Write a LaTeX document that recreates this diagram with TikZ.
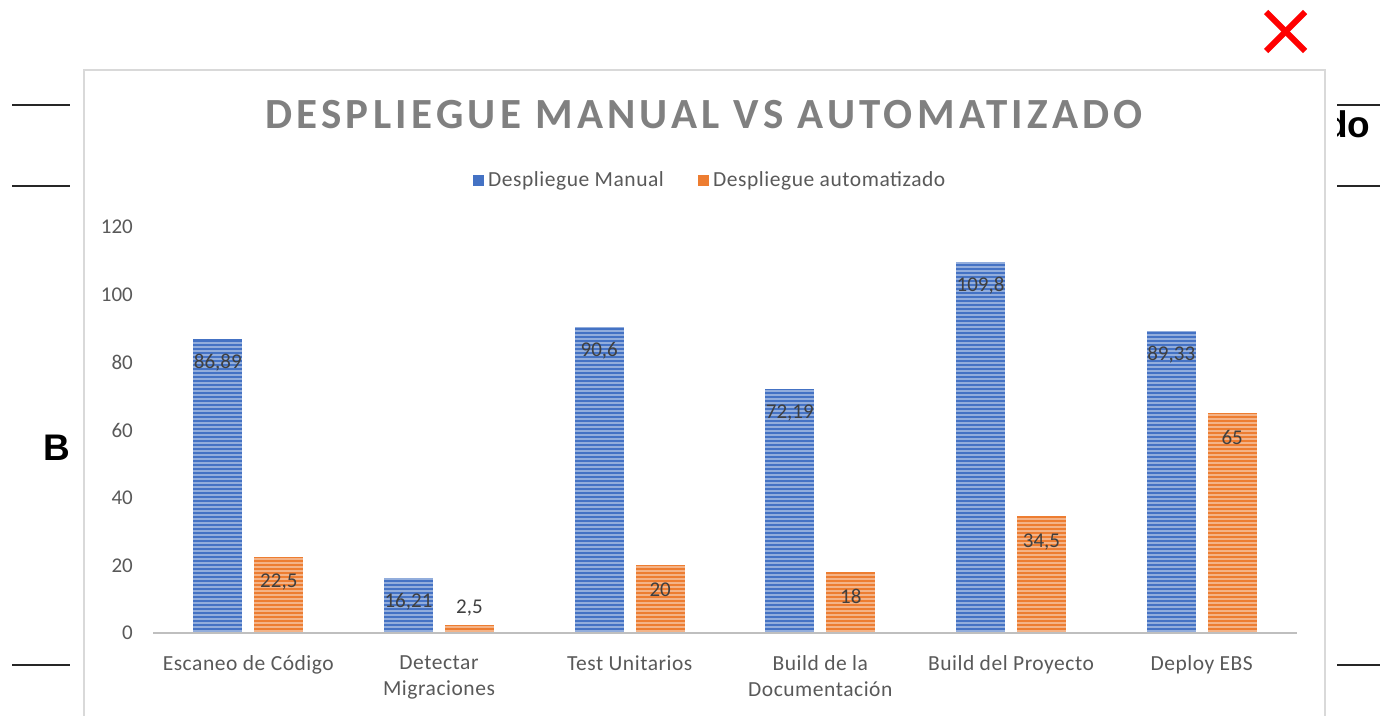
\documentclass[tikz,border=0pt]{standalone}
\usepackage{fontspec}
\setmainfont{Carlito}
\newfontfamily\titlefont[LetterSpace=10]{Carlito}
\newfontfamily\widefont[LetterSpace=2.5]{Carlito}
\newfontfamily\docfont{Liberation Sans}

\definecolor{serA}{HTML}{4472C4}
\definecolor{serB}{HTML}{ED7D31}
\definecolor{axisgray}{HTML}{BFBFBF}
\definecolor{txtgray}{HTML}{595959}
\definecolor{lblgray}{HTML}{404040}
\definecolor{titlegray}{HTML}{808080}
\definecolor{framegray}{HTML}{D9D9D9}

% one striped bar: name, x centre, value, colour, label, label offset below the bar top
\newcommand\chartbar[6]{%
  \pgfmathsetmacro\bartop{633-#3*3.383}%
  \pgfmathtruncatemacro\nlines{(631-\bartop)/4}%
  \fill[#4] (#2-24.5,\bartop) rectangle (#2+24.5,633);
  \foreach \k in {0,...,\nlines}{%
    \draw[stripe] (#2-24.5,631-\k*4) -- (#2+24.5,631-\k*4);
  }
  \node[datalbl] (#1) at (#2,\bartop+#6) {#5};
}

\tikzset{
  stripe/.style={white,opacity=.42,line width=1.1pt},
  datalbl/.style={text=lblgray,font=\fontsize{21}{25}\selectfont,inner sep=0pt},
  ticklbl/.style={text=txtgray,font=\fontsize{21}{25}\selectfont,anchor=east,inner sep=0pt},
  catlbl/.style={text=txtgray,font=\widefont\fontsize{21.5}{26}\selectfont,align=center,anchor=north,inner sep=0pt},
  leglbl/.style={text=txtgray,font=\widefont\fontsize{21.5}{25}\selectfont,anchor=west,inner sep=0pt},
  pagerule/.style={black!85,line width=2pt},
  doctext/.style={font=\docfont\bfseries\fontsize{37}{40}\selectfont,inner sep=0pt}
}

\begin{document}
\begin{tikzpicture}[x=1pt,y=-1pt]
\useasboundingbox (0,0) rectangle (1380,715);
\fill[white] (0,0) rectangle (1380,715);

% page underneath the chart
\draw[pagerule] (12,105) -- (70,105);
\draw[pagerule] (12,186) -- (70,186);
\draw[pagerule] (12,665) -- (70,665);
\draw[pagerule] (1337,105) -- (1380,105);
\draw[pagerule] (1337,186) -- (1380,186);
\draw[pagerule] (1337,665) -- (1380,665);
\node[doctext,anchor=base east] (pageB) at (70,460) {B};
\node[doctext,anchor=base west] (pagedo) at (1325,137) {do};

% chart area
\fill[white] (72,60) rectangle (1337,716);
\draw[framegray,line width=2pt] (84,716) -- (84,70) -- (1325,70) -- (1325,716);

% close mark
\draw[red,line width=6pt] (1266,12) -- (1305,51);
\draw[red,line width=6pt] (1305,12) -- (1266,51);

% title
\node[text=titlegray,font=\titlefont\bfseries\fontsize{43}{50}\selectfont,inner sep=0pt] (title) at (704,115) {DESPLIEGUE MANUAL VS AUTOMATIZADO};

% legend
\fill[serA] (473,175) rectangle (484,186);
\node[leglbl] (legA) at (488,181) {Despliegue Manual};
\fill[serB] (698,175) rectangle (709,186);
\node[leglbl] (legB) at (713,181) {Despliegue automatizado};

% value axis labels
\foreach \v in {0,20,...,120}{
  \node[ticklbl] (tick\v) at (133,633-\v*3.383) {\v};
}

% bars
\chartbar{a1}{217.8}{86.89}{serA}{86,89}{24}
\chartbar{b1}{278.8}{22.5}{serB}{22,5}{25}
\chartbar{a2}{408.5}{16.21}{serA}{16,21}{24}
\chartbar{b2}{469.5}{2.5}{serB}{2,5}{-17}
\chartbar{a3}{599.2}{90.6}{serA}{90,6}{24}
\chartbar{b3}{660.2}{20}{serB}{20}{24}
\chartbar{a4}{789.8}{72.19}{serA}{72,19}{24}
\chartbar{b4}{850.8}{18}{serB}{18}{24}
\chartbar{a5}{980.5}{109.8}{serA}{109,8}{24}
\chartbar{b5}{1041.5}{34.5}{serB}{34,5}{26}
\chartbar{a6}{1171.2}{89.33}{serA}{89,33}{24}
\chartbar{b6}{1232.2}{65}{serB}{65}{24}

% category axis
\draw[axisgray,line width=2pt] (153,633) -- (1297,633);
\node[catlbl] (c1) at (248.3,655) {Escaneo de Código};
\node[catlbl] (c2) at (439.0,655) {Detectar\\Migraciones};
\node[catlbl] (c3) at (629.7,655) {Test Unitarios};
\node[catlbl] (c4) at (820.3,655) {Build de la\\Documentación};
\node[catlbl] (c5) at (1011.0,655) {Build del Proyecto};
\node[catlbl] (c6) at (1201.7,655) {Deploy EBS};
\end{tikzpicture}
\end{document}
